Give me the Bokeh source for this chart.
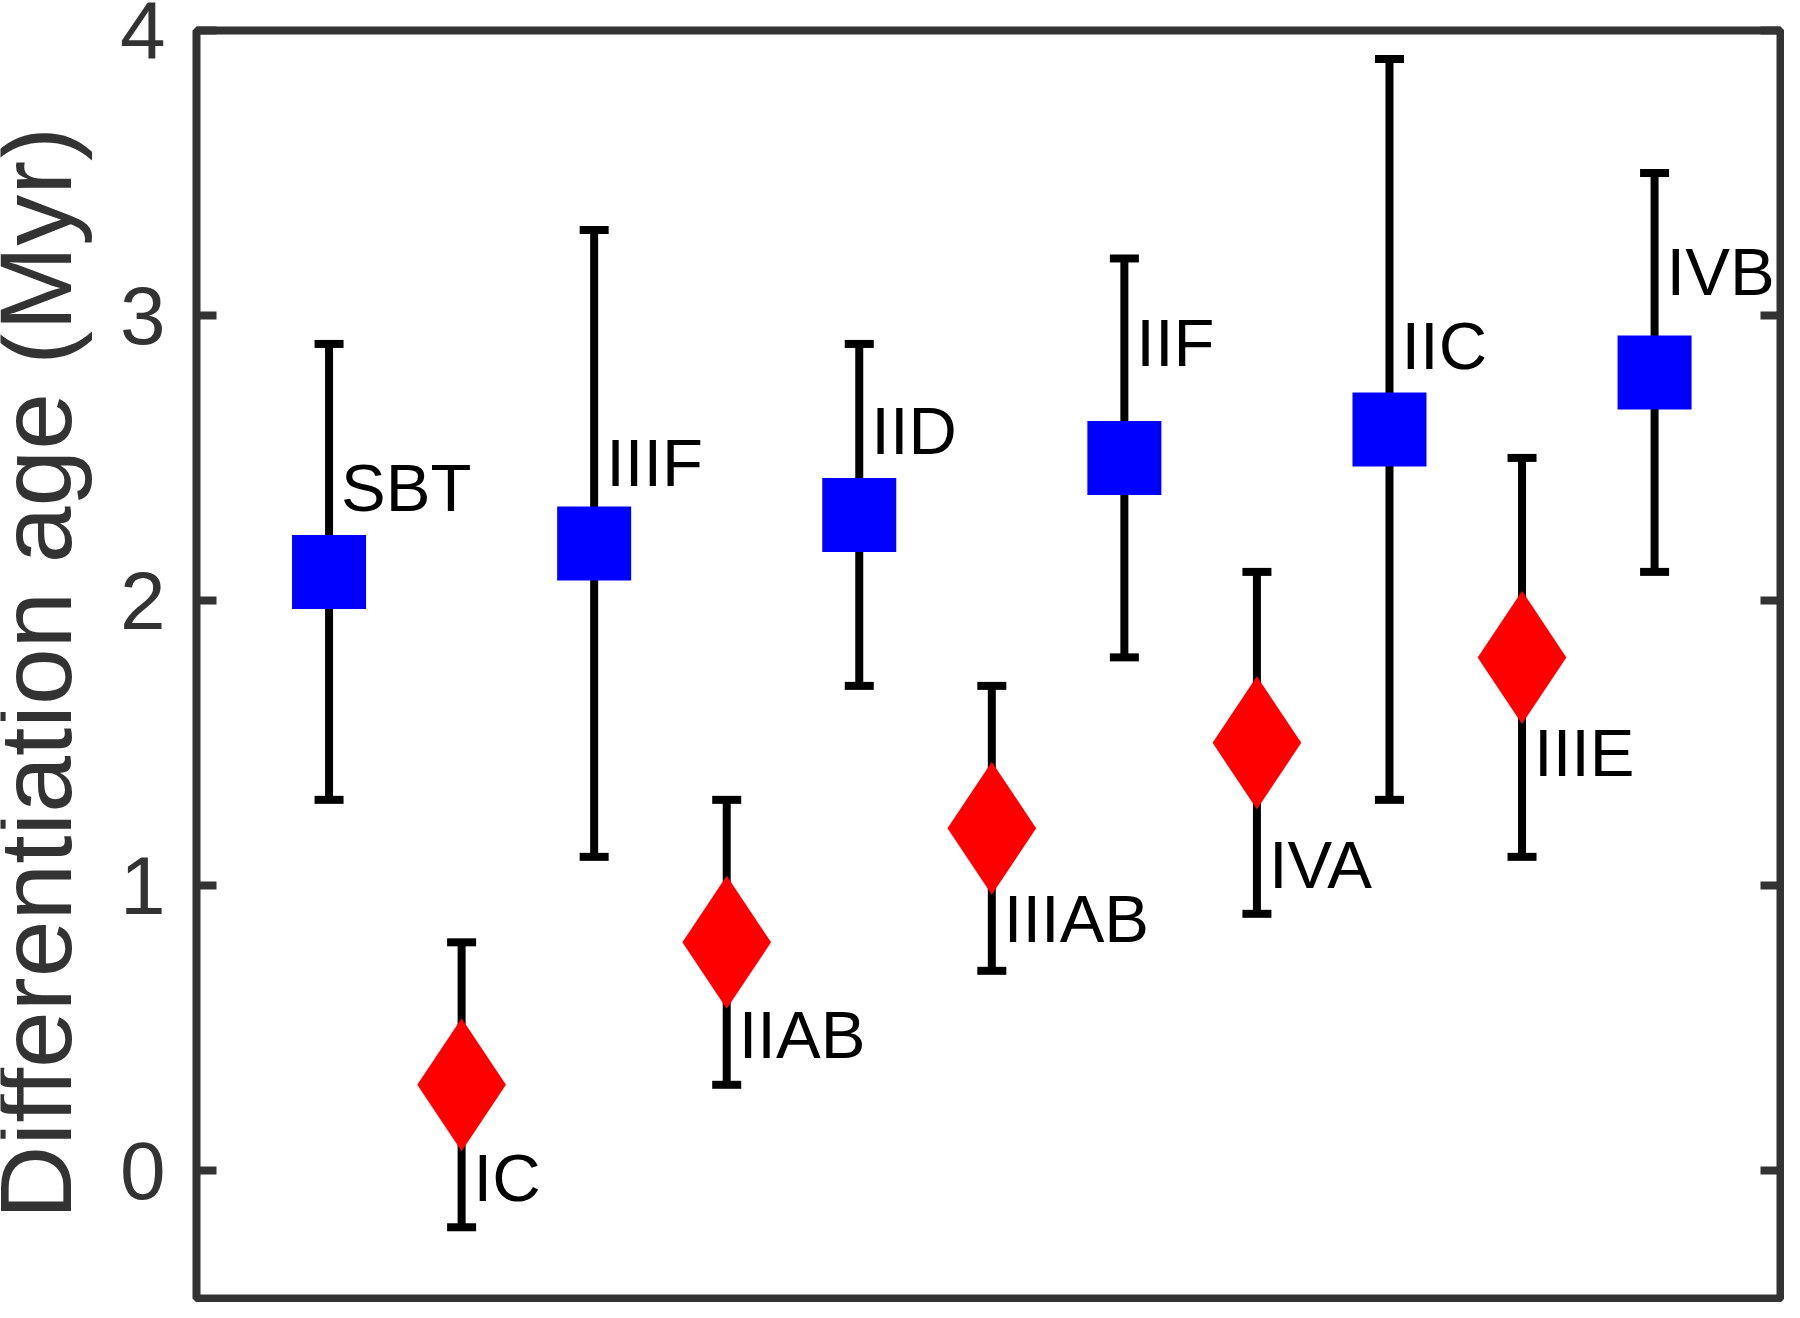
import math
from bokeh.plotting import figure
from bokeh.layouts import row
from bokeh.models import (Range1d, FixedTicker, LinearAxis, Whisker, TeeHead,
                          ColumnDataSource)
from bokeh.core.properties import value
from bokeh.embed import file_html
from bokeh.resources import INLINE

# ---- data ----
groups = ["SBT", "IC", "IIIF", "IIAB", "IID", "IIIAB", "IIF", "IVA", "IIC", "IIIE", "IVB"]
age = [2.1, 0.3, 2.2, 0.8, 2.3, 1.2, 2.5, 1.5, 2.6, 1.8, 2.8]
age_low = [1.3, -0.2, 1.1, 0.3, 1.7, 0.7, 1.8, 0.9, 1.3, 1.1, 2.1]
age_high = [2.9, 0.8, 3.3, 1.3, 2.9, 1.7, 3.2, 2.1, 3.9, 2.5, 3.5]
kind = ["square", "diamond", "square", "diamond", "square", "diamond",
        "square", "diamond", "square", "diamond", "square"]
label_y = [2.30, -0.12, 2.39, 0.38, 2.50, 0.79, 2.81, 0.98, 2.80, 1.37, 3.06]
y_ticks = [0, 1, 2, 3, 4]
y_limits = (-0.45, 4)
x_limits = (0, 11.95)
y_title = "Differentiation age (Myr)"

pos = list(range(1, len(groups) + 1))

FONT = "Liberation Sans"
AX = "#333333"
TOTAL_W, TOTAL_H = 1784, 1302
LAB_W = 110
TOP, BOTTOM = 30, 4

yr = Range1d(*y_limits)

# narrow left panel that carries the rotated y-axis title
lab = figure(width=LAB_W, height=TOTAL_H, x_range=Range1d(0, LAB_W), y_range=yr,
             output_backend="svg", toolbar_location=None,
             x_axis_location=None, y_axis_location=None,
             min_border_left=0, min_border_right=0,
             min_border_top=TOP, min_border_bottom=BOTTOM)
lab.grid.visible = False
lab.outline_line_color = None
lab.background_fill_color = "white"
lab.border_fill_color = "white"
lab.text(x=[35], y=[1.745], text=[y_title],
         angle=math.pi / 2, text_align="center", text_baseline="alphabetic",
         text_font=value(FONT), text_font_size="102px", text_color=AX)

p = figure(width=TOTAL_W - LAB_W, height=TOTAL_H,
           x_range=Range1d(*x_limits), y_range=yr,
           output_backend="svg", toolbar_location=None,
           x_axis_location=None,
           min_border_left=196 - LAB_W, min_border_right=4,
           min_border_top=TOP, min_border_bottom=BOTTOM)
p.grid.visible = False
p.background_fill_color = "white"
p.border_fill_color = "white"
p.outline_line_color = AX
p.outline_line_width = 8

yax = p.yaxis[0]
yax.ticker = FixedTicker(ticks=y_ticks)
yax.axis_line_color = None
yax.major_tick_in = 20
yax.major_tick_out = 0
yax.major_tick_line_width = 8
yax.major_tick_line_color = AX
yax.minor_tick_line_color = None
yax.major_label_text_font = FONT
yax.major_label_text_font_size = "82px"
yax.major_label_text_color = AX
yax.major_label_standoff = 31

rax = LinearAxis(ticker=FixedTicker(ticks=y_ticks),
                 axis_line_color=None,
                 major_tick_in=20, major_tick_out=0,
                 major_tick_line_width=8, major_tick_line_color=AX,
                 minor_tick_line_color=None,
                 major_label_text_font_size="0px",
                 major_label_standoff=0,
                 major_label_overrides={t: "" for t in y_ticks})
p.add_layout(rax, "right")

src = ColumnDataSource(dict(x=pos, y=age, lo=age_low, hi=age_high,
                            name=groups, ly=label_y))

whisk = Whisker(base="x", upper="hi", lower="lo", source=src,
                dimension="height", line_width=8, line_color="black",
                upper_head=TeeHead(size=29, line_width=8, line_color="black"),
                lower_head=TeeHead(size=29, line_width=8, line_color="black"),
                level="underlay")
p.add_layout(whisk)

style = {"square": ("#0000FF", 74), "diamond": ("#FF0000", 133)}
for k, (col, sz) in style.items():
    idx = [i for i, kk in enumerate(kind) if kk == k]
    s = ColumnDataSource(dict(x=[pos[i] for i in idx], y=[age[i] for i in idx]))
    p.scatter(x="x", y="y", source=s, marker=k, size=sz,
              fill_color=col, line_color=None)

p.text(x="x", y="ly", text="name", source=src, x_offset=12, y_offset=-27,
       text_font=value(FONT), text_font_size="67px", text_color="black",
       text_align="left", text_baseline="alphabetic")

layout = row(lab, p, spacing=0)
open("out.html", "w").write(file_html(layout, INLINE))
